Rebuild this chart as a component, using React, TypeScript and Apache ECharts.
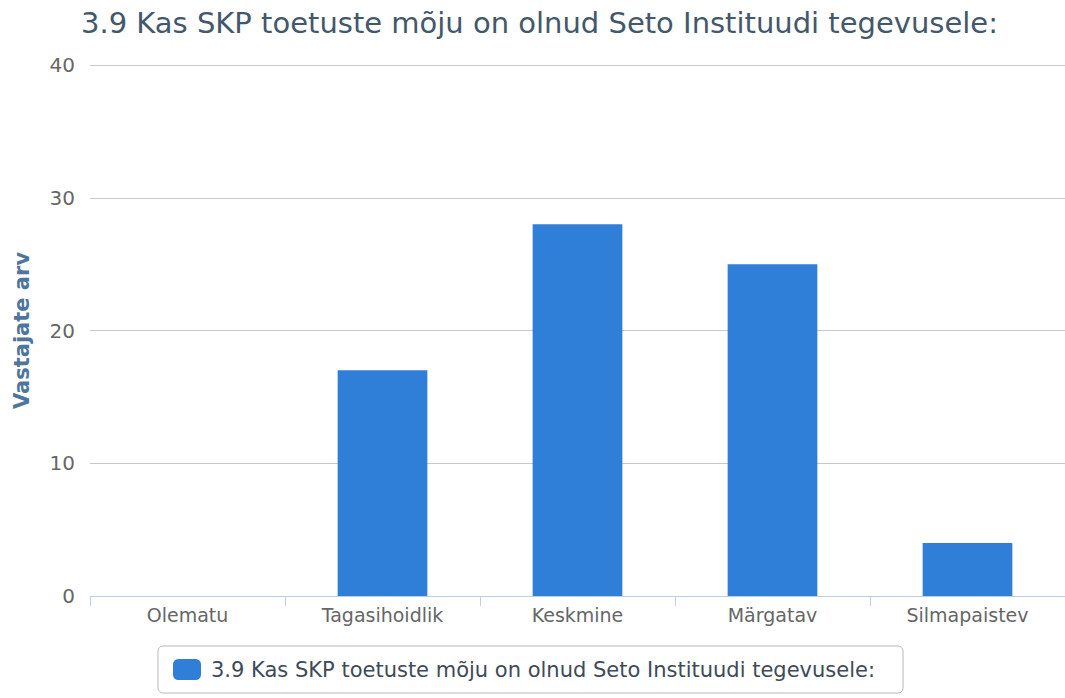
import React, { useEffect, useRef } from "react";
import * as echarts from "echarts";

const titleText = "3.9 Kas SKP toetuste mõju on olnud Seto Instituudi tegevusele:";
const categories = ["Olematu", "Tagasihoidlik", "Keskmine", "Märgatav", "Silmapaistev"];
const values = [0, 17, 28, 25, 4];
const yAxisName = "Vastajate arv";

export default function App() {
  const ref = useRef<HTMLDivElement>(null);
  useEffect(() => {
    if (!ref.current) return;
    const chart = echarts.init(ref.current, null, { renderer: "svg" });
    const font = "'DejaVu Sans', sans-serif";
    chart.setOption({
      animation: false,
      title: {
        text: titleText,
        left: 76,
        top: 3,
        textStyle: { fontFamily: font, fontSize: 29, fontWeight: "normal", color: "#43586c" },
      },
      legend: {
        top: 646,
        left: 158,
        itemWidth: 28,
        itemHeight: 21,
        itemGap: 8,
        padding: [13, 28, 13, 15],
        borderColor: "#b8b8b8",
        borderWidth: 1,
        borderRadius: 5,
        icon: "roundRect",
        textStyle: { fontFamily: font, fontSize: 21, color: "#3e4a58", padding: [0, 0, 0, 5] },
      },
      grid: { left: 90, right: 0, top: 65, height: 531, containLabel: false },
      xAxis: {
        type: "category",
        data: categories,
        axisLine: { lineStyle: { color: "#c0d0e0", width: 1 } },
        axisTick: { show: true, length: 10, lineStyle: { color: "#c0d0e0" } },
        axisLabel: { fontFamily: font, fontSize: 19, color: "#666", margin: 9 },
      },
      yAxis: {
        type: "value",
        min: 0,
        max: 40,
        interval: 10,
        name: yAxisName,
        nameLocation: "middle",
        nameGap: 58,
        nameTextStyle: { fontFamily: font, fontSize: 21, fontWeight: "bold", color: "#4d759e" },
        axisLabel: { fontFamily: font, fontSize: 20, color: "#666", margin: 15 },
        splitLine: { lineStyle: { color: "#c8c8c8", width: 1 } },
        axisLine: { show: false },
        axisTick: { show: false },
      },
      series: [
        {
          name: titleText,
          type: "bar",
          data: values,
          barWidth: "46%",
          itemStyle: { color: "#2f7ed8" },
        },
      ],
    });
    return () => chart.dispose();
  }, []);
  return <div ref={ref} style={{ width: 1065, height: 698, position: "absolute", left: 0, top: 0 }} />;
}
